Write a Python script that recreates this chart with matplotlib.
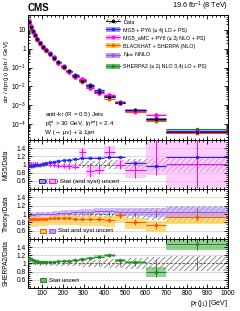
import numpy as np
import matplotlib
matplotlib.use('Agg')
import matplotlib.pyplot as plt
from matplotlib.patches import Patch, Rectangle
from matplotlib.lines import Line2D
from matplotlib.ticker import MultipleLocator, FixedLocator, FixedFormatter, LogLocator, NullFormatter

plt.rcParams['font.family'] = ['Liberation Sans', 'DejaVu Sans']
plt.rcParams['mathtext.fontset'] = 'custom'
plt.rcParams['mathtext.rm'] = 'Liberation Sans'
plt.rcParams['mathtext.it'] = 'Liberation Sans:italic'
plt.rcParams['mathtext.bf'] = 'Liberation Sans:bold'
plt.rcParams['hatch.linewidth'] = 0.5

# leading jet pT bins [GeV]
edges = np.array([30, 40, 50, 60, 70, 80, 95, 110, 125, 145, 165, 190, 215,
                  245, 275, 310, 350, 400, 450, 500, 600, 700, 1000])
# measured cross section [pb/GeV]
data_xs = np.array([28, 15, 8.5, 5.2, 3.3, 2.1, 1.3, 0.85, 0.55, 0.33, 0.19, 0.11,
                    0.062, 0.034, 0.019, 0.010, 0.0052, 0.0026, 0.0013, 5.5e-4,
                    1.9e-4, 3.5e-5])
data_unc = np.array([0.05, 0.045, 0.045, 0.045, 0.05, 0.05, 0.05, 0.05, 0.055, 0.06,
                     0.06, 0.065, 0.07, 0.07, 0.075, 0.08, 0.09, 0.10, 0.11, 0.13,
                     0.15, 0.19])
data_stat = np.array([0.003, 0.003, 0.003, 0.004, 0.004, 0.005, 0.005, 0.006, 0.007,
                      0.008, 0.01, 0.012, 0.015, 0.018, 0.02, 0.025, 0.03, 0.04,
                      0.05, 0.06, 0.1, 0.15])

# prediction / data ratios
mg5 = np.array([0.96, 0.96, 0.97, 0.98, 0.99, 1.0, 1.01, 1.03, 1.05, 1.07, 1.09, 1.11,
                1.12, 1.14, 1.16, 1.17, 1.17, 1.18, 1.19, 1.04, 0.96, 1.18])
mg5_unc = np.array([0.01, 0.01, 0.01, 0.01, 0.01, 0.01, 0.01, 0.01, 0.01, 0.01, 0.01,
                    0.012, 0.012, 0.015, 0.015, 0.02, 0.02, 0.025, 0.03, 0.03, 0.04,
                    0.03])
amc = np.array([1.02, 1.03, 1.02, 1.01, 1.02, 1.0, 1.01, 1.02, 1.0, 0.98, 0.97, 0.96,
                0.96, 0.95, 1.3, 0.83, 0.87, 1.3, 1.0, 0.875, 1.65, 1.02])
amc_unc = np.array([0.04, 0.04, 0.04, 0.04, 0.04, 0.04, 0.04, 0.04, 0.05, 0.05, 0.05,
                    0.05, 0.06, 0.06, 0.1, 0.13, 0.1, 0.15, 0.1, 0.2, 0.9, 0.6])
bh = np.array([0.88, 0.88, 0.89, 0.89, 0.88, 0.89, 0.89, 0.89, 0.9, 0.9, 0.9, 0.9,
               0.9, 0.89, 0.88, 0.88, 0.87, 0.86, 0.97, 0.81, 0.73, 0.93])
bh_up = np.array([0.06, 0.06, 0.06, 0.06, 0.06, 0.06, 0.06, 0.06, 0.07, 0.07, 0.07,
                  0.07, 0.08, 0.08, 0.08, 0.09, 0.09, 0.1, 0.1, 0.1, 0.1, 0.12])
bh_dn = np.array([0.2, 0.2, 0.19, 0.19, 0.18, 0.18, 0.18, 0.17, 0.17, 0.17, 0.16,
                  0.16, 0.16, 0.16, 0.16, 0.16, 0.16, 0.16, 0.17, 0.16, 0.16, 0.16])
bh_stat = np.array([0.01, 0.01, 0.01, 0.01, 0.01, 0.01, 0.01, 0.01, 0.015, 0.015,
                    0.02, 0.02, 0.025, 0.03, 0.03, 0.035, 0.04, 0.05, 0.06, 0.07,
                    0.08, 0.1])
njet = np.array([0.97, 0.97, 0.98, 0.98, 0.99, 0.99, 1.0, 1.0, 1.01, 1.01, 1.02, 1.03,
                 1.03, 1.04, 1.05, 1.06, 1.07, 1.07, 1.06, 1.05, 1.04, 1.05])
njet_unc = np.array([0.05, 0.05, 0.05, 0.05, 0.05, 0.05, 0.05, 0.05, 0.05, 0.055,
                     0.055, 0.06, 0.06, 0.06, 0.065, 0.07, 0.07, 0.08, 0.08, 0.09,
                     0.1, 0.12])
sherpa = np.array([1.14, 1.11, 1.08, 1.06, 1.05, 1.04, 1.03, 1.03, 1.04, 1.04, 1.05,
                   1.06, 1.07, 1.08, 1.10, 1.14, 1.17, 1.20, 1.08, 1.03, 0.80, 1.47])
sherpa_unc = np.array([0.02, 0.02, 0.02, 0.02, 0.02, 0.02, 0.02, 0.02, 0.02, 0.02,
                       0.02, 0.025, 0.025, 0.03, 0.03, 0.03, 0.03, 0.035, 0.04, 0.04,
                       0.12, 0.13])

centers = 0.5 * (edges[1:] + edges[:-1])
widths = edges[1:] - edges[:-1]
half = widths / 2

c_blue, b_blue = '#2222ee', '#9999ff'
c_mag, b_mag = '#ff00ff', '#ffaaff'
c_or, b_or = '#ff5500', '#ffcc44'
c_pur, b_pur = '#9955ee', '#bb99ff'
c_gr, b_gr = '#228822', '#66bb66'

fig = plt.figure(figsize=(2.4, 3.11), dpi=100)
L, W = 28 / 240, 200 / 240
ax0 = fig.add_axes([L, 0.55, W, 0.952 - 0.55])
ax1 = fig.add_axes([L, 0.392, W, 0.55 - 0.392])
ax2 = fig.add_axes([L, 0.2315, W, 0.392 - 0.2315])
ax3 = fig.add_axes([L, 0.074, W, 0.2315 - 0.074])
axes = [ax0, ax1, ax2, ax3]

fs = 4.5
for ax in axes:
    ax.set_xlim(30, 1000)
    ax.xaxis.set_major_locator(MultipleLocator(100))
    ax.xaxis.set_minor_locator(MultipleLocator(20))
    ax.tick_params(which='both', direction='in', top=True, right=True, labelsize=4.8,
                   width=0.6, pad=1.5)
    ax.tick_params(which='major', length=3)
    ax.tick_params(which='minor', length=1.5)
    for s in ax.spines.values():
        s.set_linewidth(0.7)
    if ax is not ax3:
        ax.tick_params(labelbottom=False)

# ---- main panel
ax0.set_yscale('log')
ax0.set_ylim(1.4e-5, 63)
ax0.yaxis.set_major_locator(FixedLocator([1e-4, 1e-3, 1e-2, 1e-1, 1, 10]))
ax0.yaxis.set_major_formatter(FixedFormatter(['$10^{-4}$', '$10^{-3}$', '$10^{-2}$',
                                              '$10^{-1}$', '1', '10']))
ax0.yaxis.set_minor_locator(LogLocator(subs=np.arange(2, 10), numticks=20))
ax0.yaxis.set_minor_formatter(NullFormatter())

ax0.bar(centers, 2 * data_unc * data_xs, bottom=data_xs * (1 - data_unc), width=widths,
        fill=False, hatch='//////', edgecolor='#555555', linewidth=0)
models = [(sherpa, sherpa_unc, c_gr, b_gr, 's'), (njet, njet_unc, c_pur, b_pur, 's'),
          (bh, bh_up, c_or, b_or, 'o'), (mg5, mg5_unc, c_blue, b_blue, 'o'),
          (amc, amc_unc, c_mag, b_mag, 'D')]
for r, u, c, b, m in models:
    y = data_xs * r
    ax0.bar(centers, 2 * 0.1 * y, bottom=y * 0.9, width=widths, color=b, linewidth=0,
            alpha=0.8)
    ax0.errorbar(centers, y, xerr=half, fmt=m, ms=2.0, color=c, elinewidth=0.8,
                 mfc=c, mec=c, capsize=0)
ax0.errorbar(centers, data_xs, xerr=half, fmt='o', ms=1.3, color='black',
             elinewidth=0.5, capsize=0)

ax0.set_ylabel(r'd$\sigma$ / dp$_{\rm T}$(j$_1$) [pb / GeV]', fontsize=4.6, labelpad=1)
ax0.text(0.0, 1.012, 'CMS', transform=ax0.transAxes, fontsize=7, fontweight='bold',
         ha='left', va='bottom')
ax0.text(1.0, 1.015, r'19.6 fb$^{-1}$ (8 TeV)', transform=ax0.transAxes, fontsize=5.2,
         ha='right', va='bottom')
ax0.text(0.085, 0.2, r'anti-k$_{\rm T}$ (R = 0.5) Jets', transform=ax0.transAxes,
         fontsize=fs, va='center')
ax0.text(0.085, 0.128, r'p$_{\rm T}^{\rm jet}$ > 30 GeV, |$\eta^{\rm jet}$| < 2.4',
         transform=ax0.transAxes, fontsize=fs, va='center')
ax0.text(0.085, 0.056, 'W (\u2192 \u03bc\u03bd) + \u2265 1jet', transform=ax0.transAxes,
         fontsize=fs, va='center')

handles = [
    (Patch(facecolor='none', edgecolor='#555555', hatch='//////', linewidth=0),
     Line2D([], [], color='black', marker='o', ms=1.5, lw=0.6)),
    (Patch(facecolor=b_blue, linewidth=0), Line2D([], [], color=c_blue, marker='o', ms=1.5, lw=0.8)),
    (Patch(facecolor=b_mag, linewidth=0), Line2D([], [], color=c_mag, marker='D', ms=1.5, lw=0.8)),
    (Patch(facecolor=b_or, linewidth=0), Line2D([], [], color=c_or, marker='o', ms=1.5, lw=0.8)),
    (Patch(facecolor=b_pur, linewidth=0), Line2D([], [], color=c_pur, marker='s', ms=1.5, lw=0.8)),
    (Patch(facecolor=b_gr, linewidth=0), Line2D([], [], color=c_gr, marker='s', ms=1.5, lw=0.8)),
]
labels = ['Data', 'MG5 + PY6 (\u2264 4j LO + PS)', 'MG5_aMC + PY8 (\u2264 2j NLO + PS)',
          'BLACKHAT + SHERPA (NLO)', r'N$_{\rm jetti}$ NNLO',
          'SHERPA2 (\u2264 2j NLO 3,4j LO + PS)']
ax0.legend(handles, labels, loc='upper left', bbox_to_anchor=(0.39, 0.965), frameon=False,
           fontsize=3.9, handlelength=2.6, handleheight=1.0, labelspacing=0.5,
           handletextpad=0.6, borderaxespad=0, borderpad=0)

# ---- ratio panels
def ratio_base(ax, ylabel):
    ax.set_ylim(0.4, 1.6)
    ax.yaxis.set_major_locator(FixedLocator([0.6, 0.8, 1.0, 1.2, 1.4]))
    ax.yaxis.set_major_formatter(FixedFormatter(['0.6', '0.8', '1', '1.2', '1.4']))
    ax.yaxis.set_minor_locator(MultipleLocator(0.05))
    for g in [0.6, 0.8, 1.2, 1.4]:
        ax.axhline(g, color='#999999', lw=0.5, ls=(0, (1, 1)), zorder=0)
    ax.axhline(1.0, color='#444444', lw=0.6, ls=(0, (3, 2)), zorder=0)
    ax.bar(centers, 2 * data_unc, bottom=1 - data_unc, width=widths, fill=False,
           hatch='//////', edgecolor='#666666', linewidth=0, zorder=1)
    ax.errorbar(centers, np.ones_like(centers), yerr=data_stat, fmt='none',
                ecolor='#444444', elinewidth=0.5, zorder=2)
    ax.set_ylabel(ylabel, fontsize=4.8, labelpad=2)

def band(ax, r, lo, hi, color, alpha=0.7, z=1.5):
    ax.bar(centers, lo + hi, bottom=r - lo, width=widths, color=color, linewidth=0,
           alpha=alpha, zorder=z)

def box(ax, x, y, face, edge):
    ax.add_patch(Rectangle((x, y - 0.045), 0.03, 0.09, transform=ax.transAxes,
                           facecolor=face, edgecolor=edge, lw=0.7, zorder=5))

ratio_base(ax1, 'MG5/Data')
band(ax1, mg5, mg5_unc, mg5_unc, b_blue)
band(ax1, amc, amc_unc, amc_unc, b_mag, alpha=0.6)
ax1.errorbar(centers, amc, xerr=half, yerr=amc_unc, fmt='none', ecolor=c_mag,
             elinewidth=0.7, zorder=3)
ax1.errorbar(centers, mg5, xerr=half, yerr=mg5_unc, fmt='o', ms=2, mfc='none',
             mec=c_blue, color=c_blue, mew=0.6, elinewidth=0.7, zorder=4)
box(ax1, 0.057, 0.163, b_blue, c_blue)
ax1.text(0.09, 0.163, '(', transform=ax1.transAxes, fontsize=fs, va='center')
box(ax1, 0.107, 0.163, b_mag, c_mag)
ax1.text(0.14, 0.163, ') Stat (and syst) uncert', transform=ax1.transAxes, fontsize=fs,
         va='center')

ratio_base(ax2, 'Theory/Data')
band(ax2, bh, bh_dn, bh_up, b_or)
band(ax2, njet, njet_unc, njet_unc, b_pur, alpha=0.65)
ax2.errorbar(centers, njet, xerr=half, fmt='none', ecolor=c_pur, elinewidth=0.7,
             zorder=3)
ax2.errorbar(centers, bh, xerr=half, yerr=bh_stat, fmt='o', ms=2, mfc='none',
             mec=c_or, color=c_or, mew=0.6, elinewidth=0.7, zorder=4)
box(ax2, 0.06, 0.163, b_or, c_or)
box(ax2, 0.105, 0.163, b_pur, c_pur)
ax2.text(0.15, 0.163, 'Stat and syst uncert', transform=ax2.transAxes, fontsize=fs,
         va='center')

ratio_base(ax3, 'SHERPA2/Data')
band(ax3, sherpa, sherpa_unc, sherpa_unc, b_gr)
ax3.errorbar(centers, sherpa, xerr=half, yerr=sherpa_unc, fmt='o', ms=2, mfc='none',
             mec=c_gr, color=c_gr, mew=0.6, elinewidth=0.7, zorder=4)
box(ax3, 0.06, 0.163, b_gr, c_gr)
ax3.text(0.105, 0.163, 'Stat uncert', transform=ax3.transAxes, fontsize=fs, va='center')

ax3.set_xlabel(r'p$_{\rm T}$(j$_1$) [GeV]', fontsize=5, labelpad=1)
ax3.xaxis.set_label_coords(1.0, -0.2)
ax3.xaxis.label.set_ha('right')

for ax in axes:
    ax.yaxis.set_label_coords(-0.09, 0.5)
ax0.yaxis.set_label_coords(-0.085, 0.55)

fig.savefig('out.png', dpi=100)
